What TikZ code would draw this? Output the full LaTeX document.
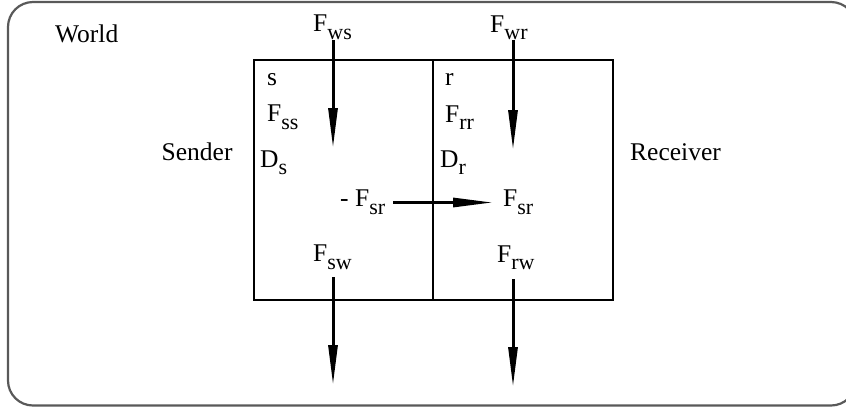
\documentclass[tikz,border=0pt]{standalone}
\usepackage{fontspec}
\setmainfont{Liberation Serif}
\usetikzlibrary{arrows.meta}
\newcommand{\fsub}[2]{#1\raisebox{-7.5pt}{\fontsize{22}{22}\selectfont #2}}
\tikzset{
  lbl/.style={inner sep=0pt, anchor=base west, font=\fontsize{25.5}{28}\selectfont},
  frame/.style={draw=black!65, line width=2.2pt, rounded corners=25pt},
  boxline/.style={draw=black, line width=2.5pt},
  force/.style={line width=3pt, -{Triangle[length=40pt,width=9pt]}}
}
\begin{document}
\begin{tikzpicture}[x=1pt,y=-1pt]
\useasboundingbox (0,0) rectangle (846,408);
\draw[frame] (8,2) rectangle (856,405.5);
\node[lbl] (world) at (55,42) {World};
\node[lbl] (sender) at (161.5,160.7) {Sender};
\node[lbl] (receiver) at (630,160.7) {Receiver};
% boxes
\draw[boxline] (254,60) rectangle (613,300);
\coordinate (divtop) at (433,60);
\coordinate (divbot) at (433,300);
\draw[boxline] (divtop) -- (divbot);
% labels
\node[lbl] (fws) at (313,31.7) {\fsub{F}{ws}};
\node[lbl] (fwr) at (490,32) {\fsub{F}{wr}};
\node[lbl] (s) at (267,85) {s};
\node[lbl] (fss) at (267,121.7) {\fsub{F}{ss}};
\node[lbl] (ds) at (260,167) {\fsub{D}{s}};
\node[lbl] (r) at (445,85) {r};
\node[lbl] (frr) at (445,122) {\fsub{F}{rr}};
\node[lbl] (dr) at (440,167) {\fsub{D}{r}};
\node[lbl] (mfsr) at (340,206.7) {- \fsub{F}{sr}};
\node[lbl] (fsr) at (503,206.7) {\fsub{F}{sr}};
\node[lbl] (fsw) at (313,261.7) {\fsub{F}{sw}};
\node[lbl] (frw) at (497,262) {\fsub{F}{rw}};
% arrow ends
\coordinate (a1s) at (333,40);  \coordinate (a1e) at (333,148);
\coordinate (a2s) at (513,40);  \coordinate (a2e) at (513,150);
\coordinate (a3s) at (333,277); \coordinate (a3e) at (333,385);
\coordinate (a4s) at (513,279); \coordinate (a4e) at (513,387);
\coordinate (a5s) at (393,202.5); \coordinate (a5e) at (493,202.5);
\draw[force] (a1s) -- (a1e);
\draw[force] (a2s) -- (a2e);
\draw[force] (a3s) -- (a3e);
\draw[force] (a4s) -- (a4e);
\draw[force] (a5s) -- (a5e);
\end{tikzpicture}
\end{document}
